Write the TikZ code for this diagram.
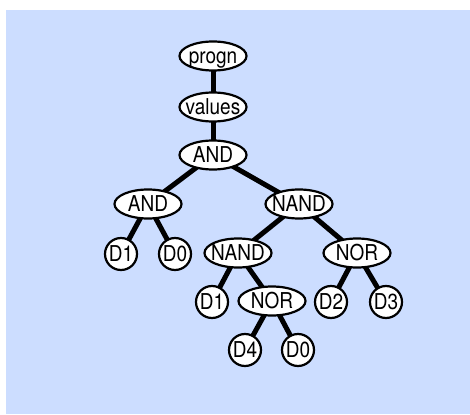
\documentclass[tikz,border=0pt]{standalone}
\usepackage{fontspec}
\usepackage{graphicx}
\setmainfont{TeX Gyre Heros}
\usetikzlibrary{shapes.geometric}
\definecolor{panel}{RGB}{204,221,255}
\pgfdeclarelayer{bg}
\pgfdeclarelayer{wires}
\pgfsetlayers{bg,wires,main}
\newcommand{\gl}[1]{\makebox[0pt]{\scalebox{1}[1.15]{#1}}}

\begin{document}
\begin{tikzpicture}[x=1pt, y=-1pt,
    gate/.style={ellipse, draw, line width=2.2pt, fill=white, inner sep=0pt,
      minimum width=67pt, minimum height=29pt, text height=15.7pt, text depth=0pt,
      font=\fontsize{19}{19}\selectfont},
    leaf/.style={gate, minimum width=32pt, minimum height=32pt},
    wire/.style={line width=5pt}]
      \useasboundingbox (0,0) rectangle (470,414);
      \begin{pgfonlayer}{bg}
        \fill[panel] (6,10) rectangle (470,414);
      \end{pgfonlayer}
      % tree nodes
      \node[gate] (progn) at (213, 56) {\gl{progn}};
      \node[gate] (values) at (213, 107) {\gl{values}};
      \node[gate] (and1) at (213, 155) {\gl{AND}};
      \node[gate] (and2) at (148, 204) {\gl{AND}};
      \node[gate] (nand1) at (299, 204) {\gl{NAND}};
      \node[leaf] (d1a) at (121, 254) {\gl{D1}};
      \node[leaf] (d0a) at (175, 254) {\gl{D0}};
      \node[gate] (nand2) at (238, 253) {\gl{NAND}};
      \node[gate] (nor1) at (357, 253) {\gl{NOR}};
      \node[leaf] (d1b) at (212, 302) {\gl{D1}};
      \node[gate] (nor2) at (272, 301) {\gl{NOR}};
      \node[leaf] (d2) at (331, 302) {\gl{D2}};
      \node[leaf] (d3) at (386, 302) {\gl{D3}};
      \node[leaf] (d4) at (245, 350) {\gl{D4}};
      \node[leaf] (d0b) at (298, 350) {\gl{D0}};
      % branches
      \begin{pgfonlayer}{wires}
        \draw[wire] (progn.center) -- (values.center);
        \draw[wire] (values.center) -- (and1.center);
        \draw[wire] (and1.center) -- (and2.center);
        \draw[wire] (and1.center) -- (nand1.center);
        \draw[wire] (and2.center) -- (d1a.center);
        \draw[wire] (and2.center) -- (d0a.center);
        \draw[wire] (nand1.center) -- (nand2.center);
        \draw[wire] (nand1.center) -- (nor1.center);
        \draw[wire] (nand2.center) -- (d1b.center);
        \draw[wire] (nand2.center) -- (nor2.center);
        \draw[wire] (nor1.center) -- (d2.center);
        \draw[wire] (nor1.center) -- (d3.center);
        \draw[wire] (nor2.center) -- (d4.center);
        \draw[wire] (nor2.center) -- (d0b.center);
      \end{pgfonlayer}
\end{tikzpicture}
\end{document}
